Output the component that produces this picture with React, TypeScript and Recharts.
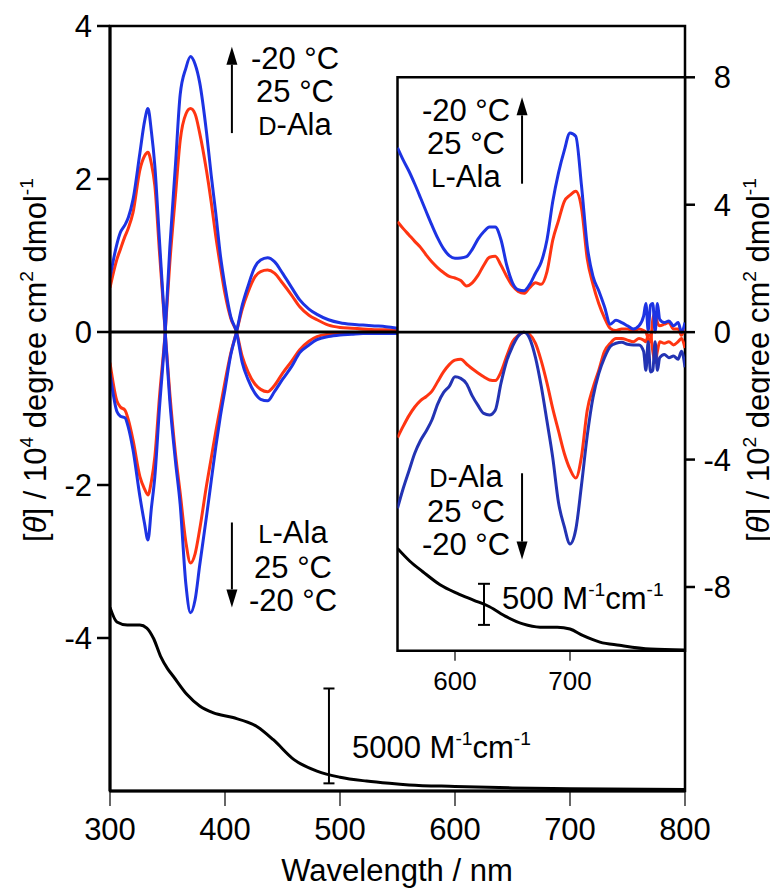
import React from 'react';
import { ComposedChart, Line, XAxis, YAxis, ReferenceLine, ReferenceArea } from 'recharts';

const FONT = '"Liberation Sans", Arial, Helvetica, sans-serif';

// main panel, [θ] in 10^4 deg cm2 dmol-1
const mainWl = [300, 306, 309, 313, 316, 320, 326, 330, 333, 336, 339, 343, 348, 352, 357, 361, 366, 370, 374, 378, 384, 388, 392, 396, 400, 405, 410, 415, 420, 426, 431, 437, 443, 450, 458, 465, 473, 480, 490, 500, 510, 520, 530, 540, 550];
const dAlaM20 = [-0.54, -1.04, -1.1, -1.12, -1.25, -1.54, -2.15, -2.5, -2.72, -2.3, -1.89, -1.0, 0, 1.1, 2.2, 3.1, 3.45, 3.6, 3.5, 3.26, 2.6, 2.05, 1.55, 1.0, 0.6, 0.2, 0, -0.4, -0.62, -0.8, -0.88, -0.9, -0.78, -0.62, -0.45, -0.27, -0.17, -0.1, -0.06, -0.04, -0.03, -0.02, -0.02, -0.02, -0.02];
const dAla25 = [-0.4, -0.9, -0.98, -1.02, -1.15, -1.41, -1.89, -2.05, -2.13, -1.95, -1.63, -0.85, 0, 0.9, 1.8, 2.5, 2.85, 2.92, 2.85, 2.6, 2.1, 1.7, 1.25, 0.86, 0.5, 0.18, 0, -0.32, -0.52, -0.68, -0.75, -0.78, -0.7, -0.54, -0.38, -0.23, -0.12, -0.06, -0.03, -0.02, -0.01, 0, 0, 0, 0];
const lAlaM20 = [0.71, 1.15, 1.3, 1.4, 1.5, 1.73, 2.34, 2.75, 2.92, 2.62, 2.17, 1.2, 0, -0.9, -1.7, -2.25, -3.3, -3.67, -3.5, -3.05, -2.4, -1.95, -1.5, -1.1, -0.75, -0.3, 0, 0.35, 0.6, 0.85, 0.94, 0.97, 0.92, 0.77, 0.58, 0.42, 0.3, 0.23, 0.16, 0.12, 0.1, 0.09, 0.08, 0.07, 0.05];
const lAla25 = [0.58, 0.95, 1.08, 1.25, 1.36, 1.56, 2.12, 2.3, 2.35, 2.2, 1.91, 1.05, 0, -0.8, -1.6, -2.1, -2.75, -3.02, -2.9, -2.58, -2.0, -1.65, -1.3, -0.98, -0.65, -0.28, 0, 0.3, 0.52, 0.72, 0.79, 0.81, 0.77, 0.64, 0.48, 0.33, 0.22, 0.16, 0.09, 0.06, 0.05, 0.04, 0.03, 0.03, 0.02];

// absorption, drawn on the main scale
const uvWl = [300, 306, 315, 326, 332, 338, 344, 350, 355, 367, 378, 390, 407, 428, 442, 460, 480, 500, 523, 543, 560, 600, 650, 700, 800];
const uvMain = [-3.6, -3.79, -3.83, -3.83, -3.87, -4.01, -4.24, -4.4, -4.5, -4.74, -4.89, -4.98, -5.04, -5.16, -5.33, -5.59, -5.74, -5.82, -5.87, -5.9, -5.92, -5.94, -5.96, -5.97, -5.98];

// inset, [θ] in 10^2 deg cm2 dmol-1
const insetWl = [550, 555, 560, 565, 570, 575, 580, 585, 590, 595, 600, 605, 610, 615, 620, 625, 630, 635, 640, 645, 650, 655, 660, 665, 670, 675, 680, 685, 690, 695, 700, 705, 710, 715, 720, 725, 730, 735, 740, 745, 750, 755, 760, 764, 766, 768, 770, 772, 774, 776, 778, 782, 786, 790, 794, 797, 800];
const insLM20 = [5.79, 5.4, 5.05, 4.65, 4.22, 3.78, 3.35, 2.95, 2.62, 2.4, 2.32, 2.33, 2.37, 2.6, 2.92, 3.15, 3.3, 3.3, 2.9, 2.1, 1.55, 1.33, 1.3, 1.5, 1.85, 2.2, 2.9, 4.1, 5.0, 5.7, 6.25, 6.15, 4.6, 2.7, 1.75, 1.3, 0.8, 0.25, 0.37, 0.3, 0.2, 0.1, 0.2, 0.5, 0.9, 0.05, 0.85, 0.9, 0.0, 0.9, 0.4, 0.3, 0.35, 0.2, 0.3, 0.0, 0.3];
const insL25 = [3.47, 3.25, 3.05, 2.85, 2.66, 2.42, 2.2, 2.02, 1.87, 1.75, 1.7, 1.62, 1.45, 1.55, 1.78, 2.1, 2.35, 2.38, 2.1, 1.75, 1.45, 1.28, 1.22, 1.4, 1.55, 1.5, 1.9, 2.89, 3.5, 4.1, 4.3, 4.42, 3.9, 2.3, 1.5, 0.9, 0.45, 0.12, 0.05, 0.1, 0.1, 0.05, 0.1, 0.05, 0.0, -0.2, -0.3, 0.4, 0.6, 0.3, 0.2, 0.25, 0.3, 0.1, 0.1, -0.1, 0.2];
const insDM20 = [-5.53, -4.9, -4.35, -3.8, -3.4, -3.1, -2.75, -2.25, -1.9, -1.7, -1.4, -1.45, -1.62, -2.0, -2.3, -2.55, -2.6, -2.45, -1.6, -0.9, -0.45, -0.12, 0.0, -0.2, -0.8, -1.7, -2.8, -3.94, -5.35, -6.1, -6.65, -6.2, -4.8, -3.25, -2.05, -1.3, -0.8, -0.45, -0.35, -0.32, -0.38, -0.4, -0.4, -0.6, -1.2, -0.3, -1.25, -1.2, -0.3, -1.2, -0.8, -0.7, -0.8, -0.75, -0.85, -0.6, -1.1];
const insD25 = [-3.31, -2.95, -2.62, -2.35, -2.15, -2.02, -1.85, -1.55, -1.25, -1.02, -0.88, -0.85, -1.0, -1.15, -1.28, -1.4, -1.5, -1.52, -1.25, -0.75, -0.3, -0.1, 0.0, -0.08, -0.35, -0.9, -1.6, -2.4, -3.1, -3.8, -4.3, -4.58, -3.9, -2.45, -1.75, -1.2, -0.6, -0.35, -0.2, -0.2, -0.25, -0.3, -0.2, -0.25, -0.3, -0.1, -0.1, -0.6, -0.95, -0.6, -0.3, -0.35, -0.3, -0.4, -0.3, -0.2, -0.5];
const uvInsetWl = [550, 561, 572, 587, 602, 616, 630, 645, 659, 674, 689, 700, 711, 726, 743, 770, 800];
const uvInset = [-6.79, -7.2, -7.52, -7.93, -8.2, -8.41, -8.62, -8.94, -9.16, -9.26, -9.26, -9.32, -9.52, -9.73, -9.83, -9.95, -9.98];

const mainXTicks = [300, 400, 500, 600, 700, 800];
const mainYTicks = [-4, -2, 0, 2, 4];
const insetXTicks = [600, 700];
const insetYTicks = [-8, -4, 0, 4, 8];

const BLUE = '#1d33e3';
const BLUE_DARK = '#2333b3';
const RED = '#ff3512';
const LW = 3;

const pairs = (xs: number[], ys: number[]) => xs.map((x, i) => ({ x, y: ys[i] }));

const arrowShape = (props: any) => {
  const { x1, y1, x2, y2 } = props;
  const dir = y2 < y1 ? -1 : 1;
  const head = 18;
  const half = 5.5;
  return (
    <g>
      <line x1={x1} y1={y1} x2={x2} y2={y2 - dir * head} stroke="#000" strokeWidth={2} />
      <polygon points={`${x2},${y2} ${x2 - half},${y2 - dir * head} ${x2 + half},${y2 - dir * head}`} fill="#000" />
    </g>
  );
};

const RightTick = (props: any) => {
  const { x, y, payload } = props;
  return (
    <text x={x + 36} y={y} dy="0.36em" textAnchor="end" fontSize={31} fontFamily={FONT} fill="#000">
      {payload.value}
    </text>
  );
};

const Sup = ({ children }: { children: React.ReactNode }) => (
  <span style={{ fontSize: '0.62em', verticalAlign: '0.68em', lineHeight: 0 }}>{children}</span>
);
const SC = ({ children }: { children: React.ReactNode }) => <span style={{ fontSize: '0.82em' }}>{children}</span>;

const Block = ({ cx, top, lines }: { cx: number; top: number; lines: React.ReactNode[] }) => (
  <div style={{ position: 'absolute', left: cx - 100, top, width: 200, textAlign: 'center', fontSize: 31, lineHeight: '33px' }}>
    {lines.map((l, i) => (
      <div key={i}>{l}</div>
    ))}
  </div>
);

const tickStyle = { fontSize: 31, fill: '#000', fontFamily: FONT };

function MainChart() {
  return (
    <ComposedChart width={770} height={880} margin={{ top: 18, right: 93, bottom: 37, left: 42 }}>
      <XAxis dataKey="x" type="number" domain={[300, 800]} ticks={mainXTicks} interval={0} allowDataOverflow height={60}
        tickSize={15} tickMargin={12} axisLine={{ stroke: '#000', strokeWidth: 3 }} tickLine={{ stroke: '#000', strokeWidth: 1.2 }} tick={tickStyle} />
      <YAxis type="number" domain={[-6, 4]} ticks={mainYTicks} interval={0} allowDataOverflow width={60}
        tickSize={13} tickMargin={5} axisLine={{ stroke: '#000', strokeWidth: 3 }} tickLine={{ stroke: '#000', strokeWidth: 2.5 }} tick={tickStyle} />
      <ReferenceArea x1={300} x2={800} y1={-6} y2={4} fill="none" stroke="#000" strokeWidth={2.5} />
      <Line data={pairs(mainWl, dAla25)} dataKey="y" type="monotone" stroke={RED} strokeWidth={LW} dot={false} isAnimationActive={false} />
      <Line data={pairs(mainWl, lAla25)} dataKey="y" type="monotone" stroke={RED} strokeWidth={LW} dot={false} isAnimationActive={false} />
      <Line data={pairs(mainWl, dAlaM20)} dataKey="y" type="monotone" stroke={BLUE} strokeWidth={LW} dot={false} isAnimationActive={false} />
      <Line data={pairs(mainWl, lAlaM20)} dataKey="y" type="monotone" stroke={BLUE} strokeWidth={LW} dot={false} isAnimationActive={false} />
      <Line data={pairs(uvWl, uvMain)} dataKey="y" type="monotone" stroke="#000" strokeWidth={3} dot={false} isAnimationActive={false} />
      <ReferenceLine y={0} stroke="#000" strokeWidth={2.8} />
      <ReferenceLine segment={[{ x: 490.4, y: -4.66 }, { x: 490.4, y: -5.9 }]} stroke="#000" strokeWidth={2} />
      <ReferenceLine segment={[{ x: 485.6, y: -4.66 }, { x: 495.2, y: -4.66 }]} stroke="#000" strokeWidth={2} />
      <ReferenceLine segment={[{ x: 485.6, y: -5.9 }, { x: 495.2, y: -5.9 }]} stroke="#000" strokeWidth={2} />
      <ReferenceLine segment={[{ x: 406, y: 2.6 }, { x: 406, y: 3.73 }]} shape={arrowShape} />
      <ReferenceLine segment={[{ x: 406, y: -2.49 }, { x: 406, y: -3.6 }]} shape={arrowShape} />
    </ComposedChart>
  );
}

function InsetChart() {
  return (
    <ComposedChart width={770} height={880} margin={{ top: 69.3, right: 33, bottom: 197.3, left: 389.5 }}>
      <XAxis dataKey="x" type="number" domain={[550, 800]} ticks={insetXTicks} interval={0} allowDataOverflow height={40}
        tickSize={10} tickMargin={11} axisLine={false} tickLine={{ stroke: '#000', strokeWidth: 1.2 }} tick={{ ...tickStyle, fontSize: 26 }} />
      <YAxis yAxisId="r" orientation="right" type="number" domain={[-10, 8]} ticks={insetYTicks} interval={0} allowDataOverflow width={60}
        tickSize={10} tickMargin={0} axisLine={false} tickLine={{ stroke: '#000', strokeWidth: 2.5 }} tick={<RightTick />} />
      <Line yAxisId="r" data={pairs(insetWl, insD25)} dataKey="y" type="monotone" stroke={RED} strokeWidth={LW} dot={false} isAnimationActive={false} />
      <Line yAxisId="r" data={pairs(insetWl, insL25)} dataKey="y" type="monotone" stroke={RED} strokeWidth={LW} dot={false} isAnimationActive={false} />
      <Line yAxisId="r" data={pairs(insetWl, insDM20)} dataKey="y" type="monotone" stroke={BLUE_DARK} strokeWidth={LW} dot={false} isAnimationActive={false} />
      <Line yAxisId="r" data={pairs(insetWl, insLM20)} dataKey="y" type="monotone" stroke={BLUE} strokeWidth={LW} dot={false} isAnimationActive={false} />
      <Line yAxisId="r" data={pairs(uvInsetWl, uvInset)} dataKey="y" type="monotone" stroke="#000" strokeWidth={3} dot={false} isAnimationActive={false} />
      <ReferenceLine yAxisId="r" y={0} stroke="#000" strokeWidth={2.8} />
      <ReferenceArea yAxisId="r" x1={550} x2={800} y1={-10} y2={8} fill="none" stroke="#000" strokeWidth={2.5} />
      <ReferenceLine yAxisId="r" segment={[{ x: 625.2, y: -7.9 }, { x: 625.2, y: -9.19 }]} stroke="#000" strokeWidth={2} />
      <ReferenceLine yAxisId="r" segment={[{ x: 620, y: -7.9 }, { x: 630.4, y: -7.9 }]} stroke="#000" strokeWidth={2} />
      <ReferenceLine yAxisId="r" segment={[{ x: 620, y: -9.19 }, { x: 630.4, y: -9.19 }]} stroke="#000" strokeWidth={2} />
      <ReferenceLine yAxisId="r" segment={[{ x: 658.3, y: 4.66 }, { x: 658.3, y: 7.37 }]} shape={arrowShape} />
      <ReferenceLine yAxisId="r" segment={[{ x: 658.3, y: -4.43 }, { x: 658.3, y: -7.14 }]} shape={arrowShape} />
    </ComposedChart>
  );
}

const yTitle = (cx: number, cy: number, exp: string) => (
  <div style={{ position: 'absolute', left: cx - 250, top: cy - 18, width: 500, height: 36, lineHeight: '36px', fontSize: 31,
    textAlign: 'center', transform: 'rotate(-90deg)', whiteSpace: 'nowrap' }}>
    [<i>θ</i>] / 10<Sup>{exp}</Sup> degree cm<Sup>2</Sup> dmol<Sup>-1</Sup>
  </div>
);

export default function App() {
  return (
    <div style={{ position: 'relative', width: 770, height: 880, fontFamily: FONT, color: '#000' }}>
      <div style={{ position: 'absolute', left: 0, top: 0 }}>
        <MainChart />
      </div>
      <div style={{ position: 'absolute', left: 389.5, top: 69.3, width: 287.5, height: 573.4, background: '#fff' }} />
      <div style={{ position: 'absolute', left: 0, top: 0 }}>
        <InsetChart />
      </div>

      <Block cx={287} top={34} lines={['-20 °C', '25 °C', <><SC>D</SC>-Ala</>]} />
      <Block cx={285} top={508} lines={[<><SC>L</SC>-Ala</>, '25 °C', '-20 °C']} />
      <Block cx={458} top={86} lines={['-20 °C', '25 °C', <><SC>L</SC>-Ala</>]} />
      <Block cx={458} top={451.5} lines={[<><SC>D</SC>-Ala</>, '25 °C', '-20 °C']} />

      <div style={{ position: 'absolute', left: 344, top: 723, fontSize: 31, lineHeight: '33px', whiteSpace: 'nowrap' }}>
        5000 M<Sup>-1</Sup>cm<Sup>-1</Sup>
      </div>
      <div style={{ position: 'absolute', left: 494, top: 574, fontSize: 31, lineHeight: '33px', whiteSpace: 'nowrap' }}>
        500 M<Sup>-1</Sup>cm<Sup>-1</Sup>
      </div>

      <div style={{ position: 'absolute', left: 189, top: 845, width: 400, textAlign: 'center', fontSize: 31, lineHeight: '36px' }}>
        Wavelength / nm
      </div>
      {yTitle(28.2, 351.5, '4')}
      {yTitle(751.2, 351.5, '2')}
    </div>
  );
}
